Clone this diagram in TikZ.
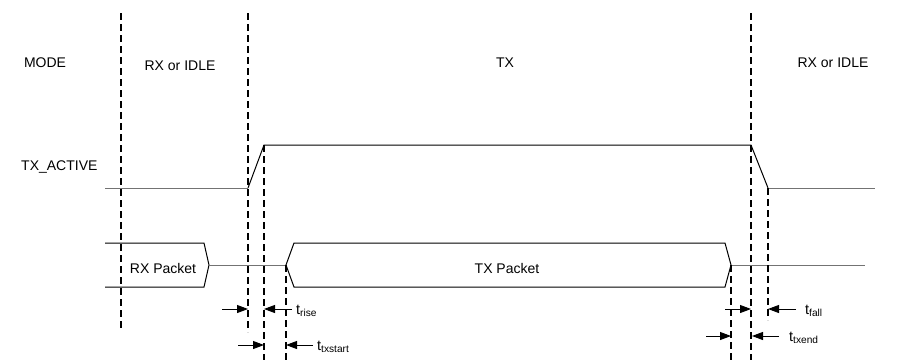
\documentclass[tikz,border=0pt]{standalone}
\usepackage{fontspec}
\setmainfont{Liberation Sans}
\usetikzlibrary{arrows.meta}
\begin{document}
\begin{tikzpicture}[x=1pt,y=-1pt,
  sig/.style={line width=1pt, black},
  lowsig/.style={line width=1pt, black!55},
  guide/.style={line width=2.2pt, dash pattern=on 7pt off 4pt},
  meas/.style={line width=0.9pt, -{Triangle[length=11pt,width=8pt]}},
  lbl/.style={font=\fontsize{14}{16}\selectfont, inner sep=0pt},
  tlbl/.style={font=\fontsize{14.5}{16}\selectfont, inner sep=0pt, anchor=base west}]
\useasboundingbox (0,0) rectangle (905,360);

% guide coordinates
\coordinate (d1t) at (121,13);  \coordinate (d1b) at (121,330);
\coordinate (d2t) at (248,13);  \coordinate (d2b) at (248,332);
\coordinate (d3t) at (264,145); \coordinate (d3b) at (264,360);
\coordinate (d4t) at (286,265); \coordinate (d4b) at (286,360);
\coordinate (d5t) at (751,13);  \coordinate (d5b) at (751,360);
\coordinate (d6t) at (768,188); \coordinate (d6b) at (768,320);
\coordinate (d7t) at (731,265); \coordinate (d7b) at (731,360);

% TX_ACTIVE waveform
\coordinate (a0) at (105,188);
\coordinate (a1) at (248,188);
\coordinate (a2) at (264,145);
\coordinate (a3) at (751,145);
\coordinate (a4) at (768,188);
\coordinate (a5) at (875,188);
\draw[lowsig] (a0) -- (a1);
\draw[sig] (a1) -- (a2) -- (a3) -- (a4);
\draw[lowsig] (a4) -- (a5);

% bus
\coordinate (r0) at (105,243);
\coordinate (r1) at (204,243);
\coordinate (r2) at (209,265);
\coordinate (r3) at (204,287);
\coordinate (r4) at (105,287);
\draw[sig] (r0) -- (r1) -- (r2) -- (r3) -- (r4);
\coordinate (t0) at (286,265);
\coordinate (t1) at (294,243);
\coordinate (t2) at (725,243);
\coordinate (t3) at (731,265);
\coordinate (t4) at (725,287);
\coordinate (t5) at (294,287);
\draw[lowsig] (r2) -- (t0);
\draw[sig] (t0) -- (t1) -- (t2) -- (t3) -- (t4) -- (t5) -- cycle;
\coordinate (e1) at (865,265);
\draw[lowsig] (t3) -- (e1);

% dashed guides
\draw[guide] (d1t) -- (d1b);
\draw[guide] (d2t) -- (d2b);
\draw[guide] (d3t) -- (d3b);
\draw[guide] (d4t) -- (d4b);
\draw[guide] (d5t) -- (d5b);
\draw[guide] (d6t) -- (d6b);
\draw[guide] (d7t) -- (d7b);

% texts
\node[lbl] (mode) at (45,63) {MODE};
\node[lbl] (rx1) at (180,66) {RX or IDLE};
\node[lbl] (tx) at (505,63) {TX};
\node[lbl] (rx2) at (833,63) {RX or IDLE};
\node[lbl, anchor=west] (txa) at (21,167) {TX\_ACTIVE};
\node[lbl] (rxp) at (163,268) {RX Packet};
\node[lbl] (txp) at (507,268) {TX Packet};

% measurement arrows
\coordinate (m1a) at (222,309); \coordinate (m1b) at (248,309);
\coordinate (m2a) at (292,309); \coordinate (m2b) at (264,309);
\coordinate (m3a) at (238,345); \coordinate (m3b) at (264,345);
\coordinate (m4a) at (313,345); \coordinate (m4b) at (286,345);
\coordinate (m5a) at (725,309); \coordinate (m5b) at (751,309);
\coordinate (m6a) at (796,309); \coordinate (m6b) at (768,309);
\coordinate (m7a) at (706,336); \coordinate (m7b) at (731,336);
\coordinate (m8a) at (779,336); \coordinate (m8b) at (752,336);
\draw[meas] (m1a) -- (m1b);
\draw[meas] (m2a) -- (m2b);
\draw[meas] (m3a) -- (m3b);
\draw[meas] (m4a) -- (m4b);
\draw[meas] (m5a) -- (m5b);
\draw[meas] (m6a) -- (m6b);
\draw[meas] (m7a) -- (m7b);
\draw[meas] (m8a) -- (m8b);

\node[tlbl] (trise) at (296,314) {t\textsubscript{rise}};
\node[tlbl] (ttxs) at (317,350) {t\textsubscript{txstart}};
\node[tlbl] (tfall) at (805,314) {t\textsubscript{fall}};
\node[tlbl] (ttxe) at (789,341) {t\textsubscript{txend}};
\end{tikzpicture}
\end{document}
